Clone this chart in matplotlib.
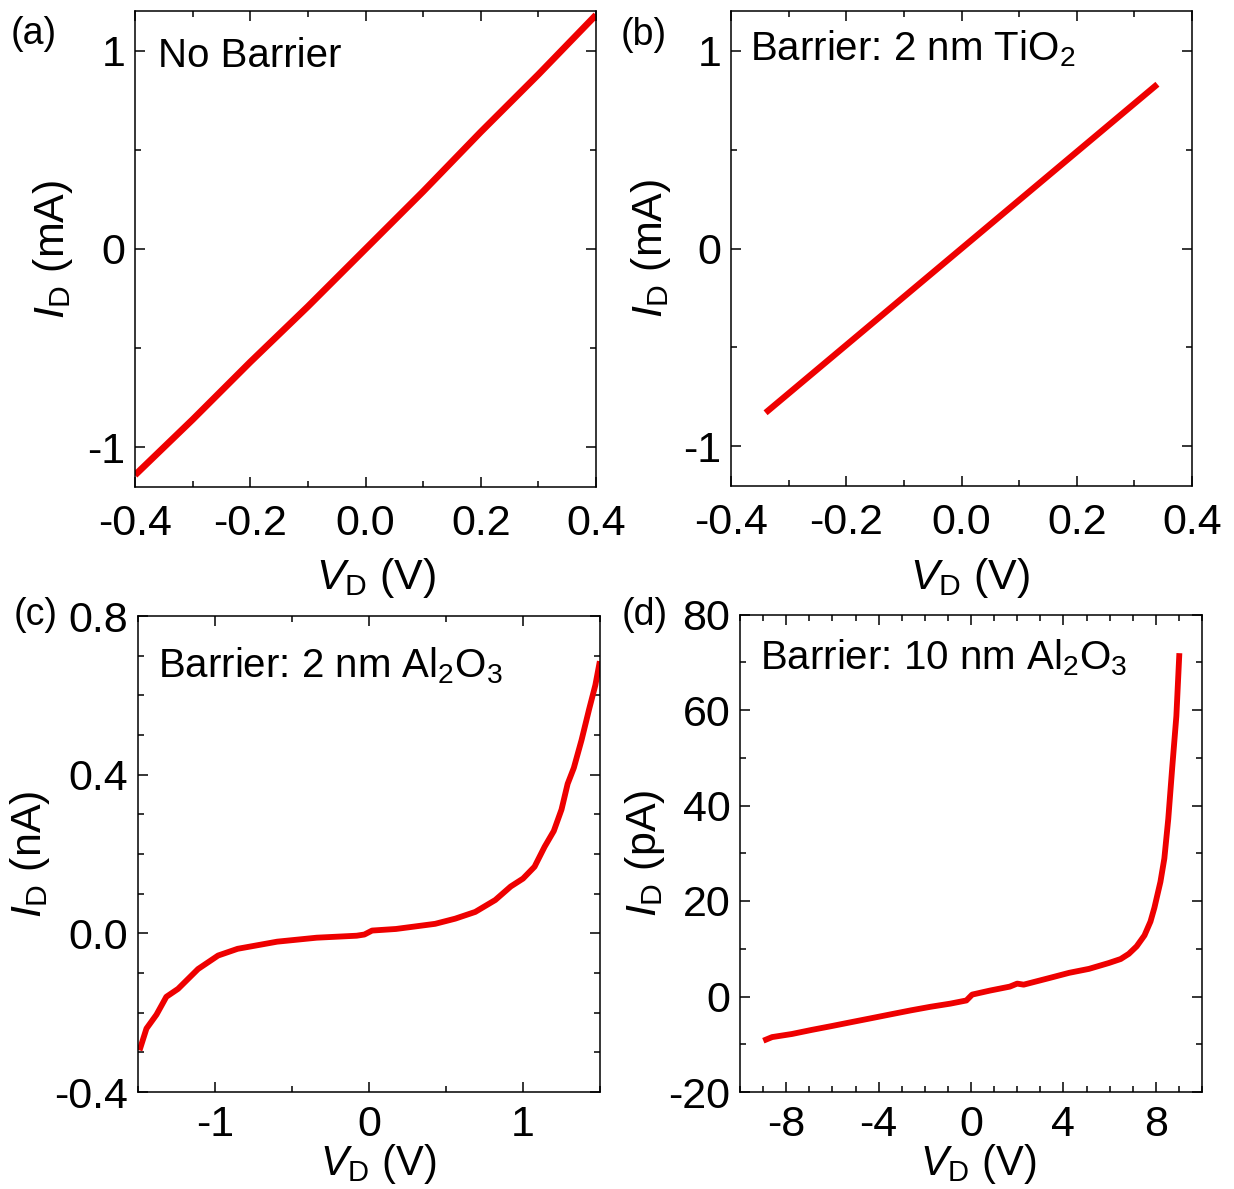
import numpy as np
import matplotlib
matplotlib.use('Agg')
import matplotlib.pyplot as plt
from matplotlib.ticker import MultipleLocator, FormatStrFormatter
from matplotlib.transforms import blended_transform_factory

plt.rcParams['font.family'] = ['Liberation Sans', 'DejaVu Sans']
plt.rcParams['mathtext.fontset'] = 'custom'
plt.rcParams['mathtext.rm'] = 'Liberation Sans'
plt.rcParams['mathtext.it'] = 'Liberation Sans:italic'
plt.rcParams['axes.unicode_minus'] = False

RED = '#ee0000'

# (a) no barrier
va = [-0.40, -0.30, -0.20, -0.10, 0.00, 0.10, 0.20, 0.30, 0.40]
ia = [-1.14, -0.86, -0.57, -0.29, 0.00, 0.29, 0.59, 0.88, 1.18]

# (b) 2 nm TiO2
vb = [-0.34, -0.17, 0.00, 0.17, 0.34]
ib = [-0.83, -0.415, 0.00, 0.415, 0.83]

# (c) 2 nm Al2O3 (nA)
vc = [-1.49, -1.445, -1.38, -1.316, -1.24, -1.11, -0.98, -0.853, -0.596, -0.34,
      -0.08, -0.03, 0.02, 0.175, 0.43, 0.56, 0.69, 0.82, 0.92, 1.0, 1.075,
      1.14, 1.2, 1.25, 1.29, 1.33, 1.38, 1.43, 1.47, 1.499]
ic = [-0.295, -0.24, -0.205, -0.16, -0.14, -0.09, -0.056, -0.039, -0.021, -0.011,
      -0.006, -0.003, 0.007, 0.011, 0.024, 0.037, 0.054, 0.084, 0.118, 0.138, 0.168,
      0.218, 0.258, 0.312, 0.377, 0.417, 0.487, 0.566, 0.626, 0.686]

# (d) 10 nm Al2O3 (pA)
vd = [-8.99, -8.61, -7.75, -6.9, -6.04, -5.18, -4.32, -3.46, -2.6, -1.75, -0.89,
      -0.2, 0.05, 0.82, 1.68, 2.0, 2.28, 3.4, 4.25, 5.11, 5.97, 6.48, 6.83, 7.17,
      7.51, 7.77, 7.94, 8.2, 8.37, 8.54, 8.71, 8.89, 9.02]
idd = [-9.26, -8.5, -7.85, -7.0, -6.2, -5.37, -4.55, -3.72, -2.9, -2.15, -1.49,
       -0.83, 0.4, 1.24, 2.07, 2.7, 2.48, 3.88, 4.96, 5.79, 7.02, 7.85, 8.93, 10.5,
       12.8, 15.7, 18.6, 24.0, 28.9, 37.2, 47.9, 58.7, 71.9]

W, H = 1234, 1189
fig = plt.figure(figsize=(W / 100, H / 100), dpi=100)


def box(l, r, t, b):
    return [l / W, 1 - b / H, (r - l) / W, (b - t) / H]


def style(ax, xmaj, xmin, ymaj, ymin, xfmt, yfmt, xpad):
    ax.xaxis.set_major_locator(MultipleLocator(xmaj))
    ax.xaxis.set_minor_locator(MultipleLocator(xmin))
    ax.yaxis.set_major_locator(MultipleLocator(ymaj))
    ax.yaxis.set_minor_locator(MultipleLocator(ymin))
    ax.xaxis.set_major_formatter(FormatStrFormatter(xfmt))
    ax.yaxis.set_major_formatter(FormatStrFormatter(yfmt))
    ax.tick_params(which='both', direction='in', top=True, right=True, width=1.1)
    ax.tick_params(which='major', length=7, labelsize=31)
    ax.tick_params(which='minor', length=4)
    ax.tick_params(axis='x', pad=xpad)
    ax.tick_params(axis='y', pad=7)
    for s in ax.spines.values():
        s.set_linewidth(1.1)


# rect, x, y, lw, xlim, ylim, ticks, note, note x/y, unit, tag, tag pos,
# xlabel x, xlabel top (axes y) or None for bottom row, ylabel x
panels = [
    (box(135, 596, 11, 487), va, ia, 4.8, (-0.4, 0.4), (-1.2, 1.2),
     (0.2, 0.1, 1, 0.5, '%.1f', '%d', 12), 'No Barrier', 0.05, 0.882, '(mA)',
     '(a)', (11, 34), 0.522, -0.145, -0.130),
    (box(731, 1192, 11, 486), vb, ib, 4.5, (-0.4, 0.4), (-1.2, 1.2),
     (0.2, 0.1, 1, 0.5, '%.1f', '%d', 12), r'Barrier: 2 nm TiO$_\mathregular{2}$',
     0.041, 0.897, '(mA)', '(b)', (621, 35), 0.519, -0.147, -0.126),
    (box(138, 600, 616, 1092), vc, ic, 4.2, (-1.5, 1.5), (-0.4, 0.8),
     (1, 0.5, 0.4, 0.1, '%d', '%.1f', 9), r'Barrier: 2 nm Al$_\mathregular{2}$O$_\mathregular{3}$',
     0.043, 0.872, '(nA)', '(c)', (14, 615), 0.52, None, -0.186),
    (box(740, 1202, 614.5, 1092), vd, idd, 4.2, (-10, 10), (-20, 80),
     (4, 1, 20, 10, '%d', '%d', 9), r'Barrier: 10 nm Al$_\mathregular{2}$O$_\mathregular{3}$',
     0.043, 0.886, '(pA)', '(d)', (622, 615), 0.516, None, -0.158),
]

for (rect, x, y, lw, xl, yl, tk, note, nx, ny, unit, tag, tagpos,
     xlx, xly, ylabx) in panels:
    ax = fig.add_axes(rect)
    ax.plot(x, y, color=RED, lw=lw, solid_capstyle='butt')
    ax.set_xlim(*xl)
    ax.set_ylim(*yl)
    style(ax, *tk)
    ax.set_ylabel(r'$I_\mathregular{D}$ ' + unit, fontsize=31)
    ax.yaxis.set_label_coords(ylabx, 0.5)
    if xly is not None:
        ax.set_xlabel(r'$V_\mathregular{D}$ (V)', fontsize=31)
        ax.xaxis.set_label_coords(xlx, xly)
    else:
        # bottom row: sit the label just above the lower edge of the figure
        ax.set_xlabel(r'$V_\mathregular{D}$ (V)', fontsize=30)
        tr = blended_transform_factory(ax.transAxes, fig.transFigure)
        ax.xaxis.set_label_coords(xlx, 3 / H, transform=tr)
        ax.xaxis.label.set_verticalalignment('bottom')
    ax.text(nx, ny, note, transform=ax.transAxes, fontsize=29, va='baseline')
    fig.text(tagpos[0] / W, 1 - tagpos[1] / H, tag, fontsize=27, va='center')

plt.savefig('out.png', dpi=100)
